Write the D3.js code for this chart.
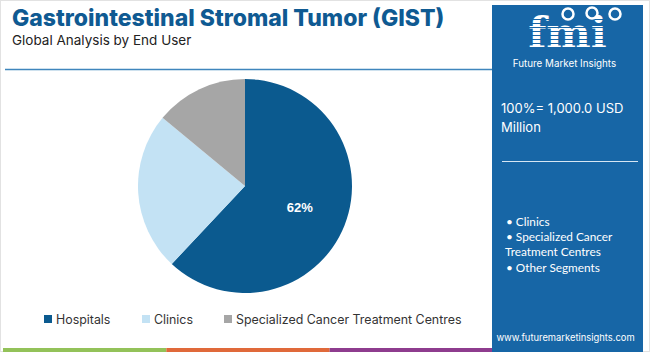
<!DOCTYPE html>
<html lang="en">
<head>
<meta charset="UTF-8">
<title>GIST - Global Analysis by End User</title>
<script src="https://d3js.org/d3.v7.min.js"></script>
<style>
  body { margin: 0; background: #fff; }
  svg { display: block; font-family: "Inter", "Open Sans", sans-serif; }
</style>
</head>
<body>
<svg id="chart" width="650" height="352"></svg>
<script>
  // data
  const segments = ["Hospitals", "Clinics", "Specialized Cancer Treatment Centres"];
  const shares = [62, 24, 14];
  const segColors = ["#0b5a8f", "#c3e2f4", "#a6a6a6"];
  const panelBullets = ["Clinics", "Specialized Cancer", "Treatment Centres", "Other Segments"];

  const svg = d3.select("#chart");
  const W = 650, H = 352;

  // frame
  svg.append("rect").attr("x", 0.5).attr("y", 0.5).attr("width", W - 1).attr("height", H - 1)
    .style("fill", "#fff").style("stroke", "#e2e2e2");

  // title block
  svg.append("text").attr("x", 12).attr("y", 26)
    .style("font-size", "23px").style("font-weight", 800).style("fill", "#0f5a92")
    .text("Gastrointestinal Stromal Tumor (GIST)");
  svg.append("text").attr("x", 12).attr("y", 45)
    .style("font-size", "13.5px").style("fill", "#222")
    .text("Global Analysis by End User");
  svg.append("line").attr("x1", 5).attr("x2", 492).attr("y1", 69.5).attr("y2", 69.5)
    .style("stroke", "#3f86bd").style("stroke-width", 1.5);

  // pie
  const cx = 245, cy = 186, r = 107;
  const pie = d3.pie().sort(null).value(d => d);
  const arc = d3.arc().innerRadius(0).outerRadius(r);
  const labelArc = d3.arc().innerRadius(r * 0.55).outerRadius(r * 0.55);
  const pg = svg.append("g").attr("transform", `translate(${cx},${cy})`);
  const arcs = pie(shares);
  pg.selectAll("path").data(arcs).join("path")
    .attr("d", arc)
    .style("fill", (d, i) => segColors[i]);
  pg.append("text")
    .attr("transform", `translate(${labelArc.centroid(arcs[0])})`)
    .attr("text-anchor", "middle").attr("dy", "0.35em")
    .style("font-family", "Liberation Sans, Arial, sans-serif")
    .style("font-size", "13px").style("font-weight", "bold").style("fill", "#fff")
    .text(shares[0] + "%");

  // legend
  const legX = d3.scaleOrdinal().domain(segments).range([44, 142, 224]);
  const lg = svg.append("g");
  segments.forEach((s, i) => {
    lg.append("rect").attr("x", legX(s)).attr("y", 315).attr("width", 8).attr("height", 8)
      .style("fill", segColors[i]);
    lg.append("text").attr("x", legX(s) + 12).attr("y", 323.5)
      .style("font-size", "12.4px").style("fill", "#333").text(s);
  });

  // bottom stripe
  const stripeColors = ["#93c259", "#e0693a", "#8e3c8e"];
  const stripeX = d3.scaleLinear().domain([0, 3]).range([3, 493]);
  stripeColors.forEach((c, i) => {
    svg.append("rect").attr("x", stripeX(i)).attr("y", 348)
      .attr("width", stripeX(i + 1) - stripeX(i)).attr("height", 4).style("fill", c);
  });

  // right panel
  const px = 492, pw = 151;
  svg.append("rect").attr("x", px).attr("y", 5).attr("width", pw).attr("height", H - 5)
    .style("fill", "#1766a6");

  // logo
  const logo = svg.append("g");
  logo.append("text").attr("x", px + pw / 2).attr("y", 48).attr("text-anchor", "middle")
    .style("font-family", "DejaVu Serif, serif").style("font-weight", "bold")
    .style("font-size", "42px").style("fill", "#fff")
    .text("fmi");
  d3.range(19, 50, 4).forEach(y => {
    logo.append("line").attr("x1", px + 20).attr("x2", px + 135).attr("y1", y + 0.5).attr("y2", y + 0.5)
      .style("stroke", "#1766a6").style("stroke-width", 1);
  });
  [[568, 14], [592, 13], [615, 14]].forEach(([x, y]) => {
    logo.append("circle").attr("cx", x).attr("cy", y).attr("r", 5.5)
      .style("fill", "none").style("stroke", "#fff").style("stroke-width", 2.5);
  });
  logo.append("text").attr("x", px + pw / 2 - 3).attr("y", 67).attr("text-anchor", "middle")
    .style("font-size", "9.8px").style("fill", "#fff").text("Future Market Insights");

  svg.append("text").attr("x", px + 9).attr("y", 113)
    .style("font-size", "13px").style("fill", "#fff").text("100%= 1,000.0 USD");
  svg.append("text").attr("x", px + 9).attr("y", 132)
    .style("font-size", "13px").style("fill", "#fff").text("Million");
  svg.append("line").attr("x1", px + 10).attr("x2", px + 146).attr("y1", 161.5).attr("y2", 161.5)
    .style("stroke", "#d6e6f3").style("stroke-width", 1.2);

  const bulletY = [226, 241, 256, 272];
  panelBullets.forEach((t, i) => {
    const bullet = (i === 2) ? "" : "\u2022 ";
    svg.append("text").attr("x", i === 2 ? px + 13 : px + 14).attr("y", bulletY[i])
      .style("font-family", "Lato, sans-serif")
      .style("font-size", "11.8px").style("fill", "#fff").text(bullet + t);
  });

  svg.append("text").attr("x", px + pw / 2 - 2).attr("y", 341).attr("text-anchor", "middle")
    .style("font-size", "9.4px").style("fill", "#fff").text("www.futuremarketinsights.com");
</script>
</body>
</html>
